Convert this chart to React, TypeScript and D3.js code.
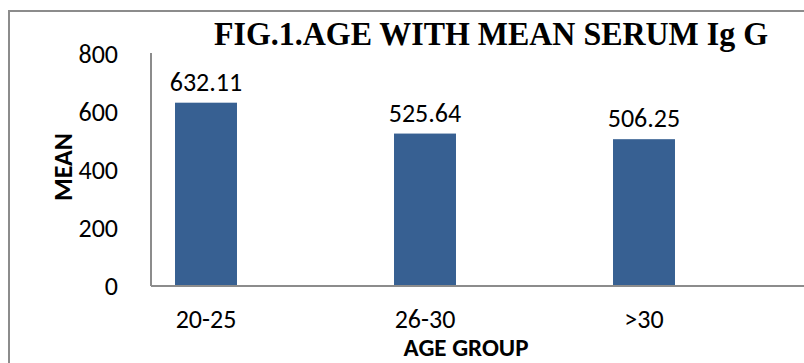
import React from "react";
import * as d3 from "d3";

const categories = ["20-25", "26-30", ">30"];
const means = [632.11, 525.64, 506.25];
const yTicks = [0, 200, 400, 600, 800];

const W = 804;
const H = 363;
const axisX = 151;
const plotTop = 54;
const plotBottom = 286;

const sans = "Carlito, 'Liberation Sans', Arial, sans-serif";

export default function App() {
  // category bands: each step is 219px, bars take ~28% of a step
  const x = d3
    .scaleBand<string>()
    .domain(categories)
    .range([96.5, 753.5])
    .paddingInner(0.717)
    .paddingOuter(0.3585);
  const y = d3.scaleLinear().domain([0, 800]).range([plotBottom, plotTop]);

  return (
    <svg
      width={W}
      height={H}
      style={{ position: "absolute", left: 0, top: 0, background: "#fff" }}
    >
      {/* chart frame */}
      <line x1={9} y1={11} x2={W} y2={11} stroke="#8c8c8c" strokeWidth={2} />
      <line x1={9} y1={10} x2={9} y2={H} stroke="#8c8c8c" strokeWidth={2} />

      <text
        x={214}
        y={45}
        textLength={554}
        lengthAdjust="spacingAndGlyphs"
        fontFamily="'Liberation Serif', 'Times New Roman', serif"
        fontWeight="bold"
        fontSize={34}
        fill="#000"
      >
        FIG.1.AGE WITH MEAN SERUM Ig G
      </text>

      {/* y axis ticks */}
      {yTicks.map((t) => (
        <text
          key={t}
          x={118}
          y={y(t)}
          dy="0.33em"
          textAnchor="end"
          fontFamily={sans}
          fontSize={26}
          fill="#000"
        >
          {t}
        </text>
      ))}

      {/* bars */}
      {categories.map((c, i) => {
        const cx = (x(c) as number) + x.bandwidth() / 2;
        return (
          <g key={c}>
            <rect
              x={x(c)}
              y={y(means[i])}
              width={x.bandwidth()}
              height={plotBottom - y(means[i])}
              fill="#376092"
            />
            <text
              x={cx}
              y={y(means[i]) - 12}
              textAnchor="middle"
              fontFamily={sans}
              fontSize={26}
              fill="#000"
            >
              {means[i].toFixed(2)}
            </text>
            <text
              x={cx}
              y={328}
              textAnchor="middle"
              fontFamily={sans}
              fontSize={26}
              fill="#000"
            >
              {c}
            </text>
          </g>
        );
      })}

      {/* axes */}
      <line x1={axisX} y1={plotTop - 1} x2={axisX} y2={plotBottom} stroke="#8c8c8c" strokeWidth={2} />
      <line x1={axisX} y1={plotBottom} x2={W} y2={plotBottom} stroke="#8c8c8c" strokeWidth={2} />

      {/* axis titles */}
      <text
        x={466}
        y={356}
        textAnchor="middle"
        fontFamily={sans}
        fontWeight="bold"
        fontSize={25}
        fill="#000"
      >
        AGE GROUP
      </text>
      <text
        transform={`translate(72,167) rotate(-90)`}
        textAnchor="middle"
        fontFamily={sans}
        fontWeight="bold"
        fontSize={26}
        fill="#000"
      >
        MEAN
      </text>
    </svg>
  );
}
